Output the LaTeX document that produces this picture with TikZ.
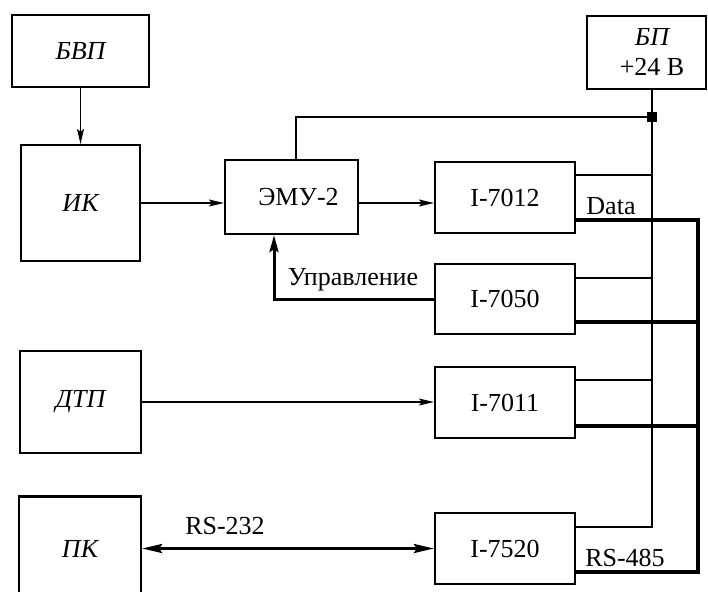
\documentclass[tikz,border=0pt]{standalone}
\usepackage{fontspec}
\setmainfont{Liberation Serif}
\usetikzlibrary{arrows.meta}

\begin{document}
\begin{tikzpicture}[x=1pt, y=-1pt, font=\fontsize{26}{30}\selectfont,
    blk/.style={draw, line width=2.2pt, inner sep=0pt, align=center},
    thin/.style={line width=1.3pt},
    bus/.style={line width=3.5pt},
    tip/.style={-{Stealth[length=15pt, width=7pt, inset=3pt]}},
    bigtip/.style={-{Stealth[length=17pt, width=9pt, inset=3pt]}}]
  \clip (0,0) rectangle (708,591);

  % blocks
  \node[blk, minimum width=137pt, minimum height=72pt]  (bvp)   at (80.5,51)    {\itshape БВП};
  \node[blk, minimum width=119pt, minimum height=116pt] (ik)    at (80.5,203)   {\itshape ИК};
  \node[blk, minimum width=121pt, minimum height=102pt] (dtp)   at (80.5,402)   {\itshape ДТП};
  \node[blk, minimum width=122pt, minimum height=104pt] (pk)    at (80,548.5)   {\itshape ПК};
  \node[blk, minimum width=133pt, minimum height=74pt]  (emu)   at (291.5,197)  {\hspace*{14pt}ЭМУ-2};
  \node[blk, minimum width=140pt, minimum height=71pt]  (i7012) at (505,197.5)  {I-7012};
  \node[blk, minimum width=140pt, minimum height=70pt]  (i7050) at (505,299)    {I-7050};
  \node[blk, minimum width=140pt, minimum height=71pt]  (i7011) at (505,402.5)  {I-7011};
  \node[blk, minimum width=140pt, minimum height=71pt]  (i7520) at (505,548.5)  {I-7520};
  \node[blk, minimum width=119pt, minimum height=73pt]  (bp)    at (646.5,52.5) {\itshape\hspace*{11pt}БП\\\hspace*{11pt}+24 В};

  \node[fill, minimum size=10pt, inner sep=0pt] (jn) at (652,117) {};
  \coordinate (pw)   at (652,527);
  \coordinate (dtop) at (698,220);
  \coordinate (dbot) at (698,572);

  % signals
  \draw[thin,tip] (bvp) -- (ik);
  \draw[thin,tip] (ik) -- (emu.west |- ik);
  \draw[thin,tip] (emu.east |- ik) -- (i7012.west |- ik);
  \draw[thin,tip] (dtp) -- (i7011.west |- dtp);
  \draw[line width=3pt, bigtip] (i7050) -| ([xshift=-17.5pt]emu.south);
  \draw[line width=3pt, {Stealth[length=20pt, width=9pt, inset=3pt]}-{Stealth[length=20pt, width=9pt, inset=3pt]}]
    (pk) -- (i7520);

  % power
  \draw[thin] ([xshift=4.5pt]emu.north) |- (jn.center);
  \draw[thin] (bp.south -| jn) -- (pw) -- (i7520.east |- pw);
  \foreach \n/\y in {i7012/175, i7050/278, i7011/380}
    \draw[thin] (\n.east |- 0,\y) -- (jn |- 0,\y);

  % data bus
  \draw[bus] (i7012.east |- dtop) -- (dtop) -- (dbot) -- (i7520.east |- dbot);
  \foreach \n/\y in {i7050/322, i7011/426}
    \draw[bus] (\n.east |- 0,\y) -- (dtop |- 0,\y);

  % labels
  \node (data)  at (611,206) {Data};
  \node (rs485) at (625,558) {RS-485};
  \node (upr)   at (353,280) {Управление};
  \node (rs232) at (225,526) {RS-232};
\end{tikzpicture}
\end{document}
